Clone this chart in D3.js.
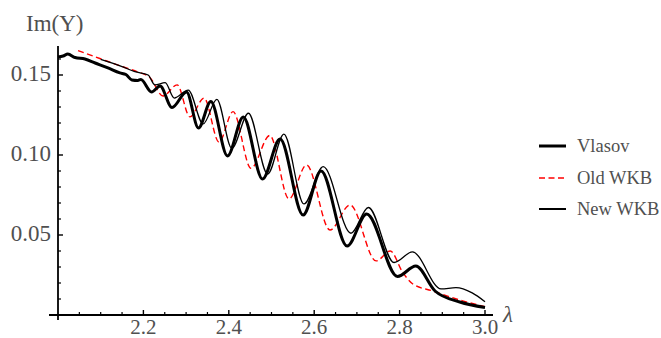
<!DOCTYPE html>
<html><head><meta charset="utf-8">
<script src="https://cdn.jsdelivr.net/npm/d3@7"></script>
<style>
body{margin:0;background:#fff}
svg{display:block}
</style>
</head><body>
<svg id="chart" width="661" height="338"></svg>
<script>
// ---- data ----
const vlasovLambda = [2.000,2.012,2.023,2.040,2.063,2.087,2.117,2.145,2.159,2.173,2.187,2.194,2.219,2.239,2.267,2.301,2.329,2.358,2.397,2.434,2.479,2.520,2.574,2.616,2.677,2.723,2.795,2.838,2.883,2.941,3.000];
const vlasovIm     = [0.1613,0.1619,0.1631,0.1609,0.1600,0.1575,0.1544,0.1513,0.1503,0.1469,0.1466,0.1472,0.1394,0.1431,0.1297,0.1394,0.1169,0.1334,0.0994,0.1238,0.0850,0.1100,0.0625,0.0900,0.0431,0.0631,0.0241,0.0306,0.0150,0.0081,0.0047];

const oldLambda = [2.047,2.098,2.150,2.187,2.215,2.246,2.279,2.309,2.342,2.377,2.410,2.452,2.496,2.541,2.582,2.637,2.684,2.745,2.778,2.808,2.831,2.878,2.948,3.000];
const oldIm     = [0.1652,0.1603,0.1553,0.1519,0.1485,0.1369,0.1438,0.1238,0.1356,0.1081,0.1271,0.0917,0.1122,0.0725,0.0938,0.0531,0.0688,0.0338,0.0400,0.0263,0.0194,0.0150,0.0088,0.0052];

const newLambda = [2.100,2.150,2.180,2.211,2.227,2.251,2.272,2.305,2.340,2.372,2.407,2.446,2.491,2.529,2.576,2.621,2.686,2.727,2.787,2.830,2.897,2.932,2.970,3.000];
const newIm     = [0.1597,0.1552,0.1521,0.1500,0.1438,0.1452,0.1356,0.1406,0.1194,0.1348,0.1042,0.1261,0.0881,0.1131,0.0694,0.0927,0.0511,0.0672,0.0328,0.0394,0.0163,0.0171,0.0138,0.0083];

const xTickValues = [2.2,2.4,2.6,2.8,3.0];
const xTickLabels = ["2.2","2.4","2.6","2.8","3.0"];
const yTickValues = [0.05,0.10,0.15];
const yTickLabels = ["0.05","0.10","0.15"];
const seriesNames = ["Vlasov","Old WKB","New WKB"];

// ---- drawing ----
const FONT = "'Liberation Serif', 'DejaVu Serif', serif";
const TXT = "#505050";
const svg = d3.select("#chart");
const x = d3.scaleLinear().domain([2.0,3.0]).range([58,485]);
const y = d3.scaleLinear().domain([0,0.15]).range([315,75]);

const xMinor = d3.range(2.05,3.001,0.05).filter(v=>!xTickValues.some(t=>Math.abs(t-v)<1e-6));
const yMinor = d3.range(0.01,0.1601,0.01).filter(v=>!yTickValues.some(t=>Math.abs(t-v)<1e-6));

const ax = svg.append("g").attr("stroke","#000");
ax.append("line").attr("x1",49).attr("x2",493).attr("y1",y(0)).attr("y2",y(0)).attr("stroke-width",1.8);
ax.append("line").attr("x1",x(2)).attr("x2",x(2)).attr("y1",320).attr("y2",46).attr("stroke-width",1.8);
ax.selectAll(".xM").data(xTickValues).join("line")
  .attr("x1",d=>x(d)).attr("x2",d=>x(d)).attr("y1",y(0)).attr("y2",y(0)-5).attr("stroke-width",1.4);
ax.selectAll(".xm").data(xMinor).join("line")
  .attr("x1",d=>x(d)).attr("x2",d=>x(d)).attr("y1",y(0)).attr("y2",y(0)-3).attr("stroke-width",1.2);
ax.selectAll(".yM").data(yTickValues).join("line")
  .attr("x1",x(2)).attr("x2",x(2)+5).attr("y1",d=>y(d)).attr("y2",d=>y(d)).attr("stroke-width",1.4);
ax.selectAll(".ym").data(yMinor).join("line")
  .attr("x1",x(2)).attr("x2",x(2)+3).attr("y1",d=>y(d)).attr("y2",d=>y(d)).attr("stroke-width",1.2);

const T = (sel)=>sel.attr("font-family",FONT).attr("fill",TXT);

T(svg.selectAll(".xl").data(xTickValues).join("text"))
  .attr("x",d=>x(d)).attr("y",334).attr("text-anchor","middle")
  .attr("font-size",21).text((d,i)=>xTickLabels[i]);
T(svg.selectAll(".yl").data(yTickValues).join("text"))
  .attr("x",51).attr("y",d=>y(d)+6).attr("text-anchor","end")
  .attr("font-size",23).text((d,i)=>yTickLabels[i]);

T(svg.append("text")).attr("x",26).attr("y",31).attr("font-size",23).text("Im(Y)");
T(svg.append("text")).attr("x",503).attr("y",322).attr("font-size",23).attr("font-style","italic").text("λ");

const line = d3.line().x(d=>x(d[0])).y(d=>y(d[1])).curve(d3.curveMonotoneX);
const oldData = oldLambda.map((l,i)=>[l,oldIm[i]]);
const newData = newLambda.map((l,i)=>[l,newIm[i]]);
const vlaData = vlasovLambda.map((l,i)=>[l,vlasovIm[i]]);

svg.append("path").attr("d",line(oldData)).attr("fill","none")
  .attr("stroke","#ff0000").attr("stroke-width",1.4).attr("stroke-dasharray","6,3.5");
svg.append("path").attr("d",line(newData)).attr("fill","none")
  .attr("stroke","#000").attr("stroke-width",1.3);
svg.append("path").attr("d",line(vlaData)).attr("fill","none")
  .attr("stroke","#000").attr("stroke-width",3);

const legY = [146,178,209];
const legStyle = [
  {c:"#000",w:3,dash:null},
  {c:"#ff0000",w:1.4,dash:"6,3.5"},
  {c:"#000",w:2,dash:null}
];
const leg = svg.append("g");
seriesNames.forEach((n,i)=>{
  leg.append("line").attr("x1",539).attr("x2",566).attr("y1",legY[i]).attr("y2",legY[i])
    .attr("stroke",legStyle[i].c).attr("stroke-width",legStyle[i].w)
    .attr("stroke-dasharray",legStyle[i].dash);
  T(leg.append("text")).attr("x",577).attr("y",legY[i]+6).attr("font-size",18.5).text(n);
});
</script>
</body></html>
